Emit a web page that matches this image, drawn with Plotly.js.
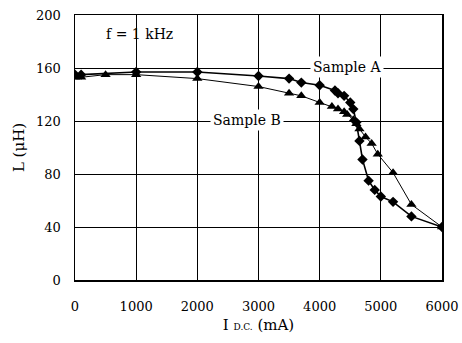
<!DOCTYPE html>
<html>
<head>
<meta charset="utf-8">
<script src="https://cdn.plot.ly/plotly-3.0.1.min.js"></script>
<style>html,body{margin:0;padding:0;background:#fff;}#chart{width:462px;height:343px;}</style>
</head>
<body>
<div id="chart"></div>
<script>
// Sample A (diamonds)
const currentA = [0, 100, 1000, 2000, 3000, 3500, 3700, 4000, 4250, 4300, 4400, 4500, 4550, 4600, 4650, 4700, 4800, 4900, 5000, 5200, 5500, 6000];
const inductA  = [155, 155, 157, 157, 154, 152, 149, 147, 143, 141, 139, 134, 129, 119, 105, 91, 75, 68, 63, 59, 48, 40];
// Sample B (triangles)
const currentB = [0, 100, 500, 1000, 2000, 3000, 3500, 3700, 4000, 4200, 4300, 4400, 4450, 4550, 4600, 4650, 4750, 4850, 4950, 5200, 5500, 6000];
const inductB  = [153, 153, 155, 155, 152, 146, 141, 139, 134, 131, 129, 127, 125, 121, 118, 114, 108, 103, 95, 81, 57, 40];
const xTicks = [0, 1000, 2000, 3000, 4000, 5000, 6000];
const yTicks = [0, 40, 80, 120, 160, 200];

const serif = "DejaVu Serif";
const traces = [
  {x: currentA, y: inductA, mode: 'lines+markers', name: 'Sample A',
   line: {color: '#000', width: 1.6},
   marker: {symbol: 'diamond', size: 8, color: '#000'}},
  {x: currentB, y: inductB, mode: 'lines+markers', name: 'Sample B',
   line: {color: '#000', width: 1},
   marker: {symbol: 'triangle-up', size: 9, color: '#000'}}
];
const layout = {
  width: 462, height: 343,
  margin: {l: 75, r: 20, t: 15, b: 63},
  paper_bgcolor: '#fff', plot_bgcolor: '#fff',
  showlegend: false,
  font: {family: serif, size: 13, color: '#000'},
  xaxis: {range: [0, 6000], tickvals: xTicks, ticktext: xTicks.map(String),
    showgrid: true, gridcolor: '#000', gridwidth: 1,
    showline: true, linecolor: '#000', linewidth: 1.5, mirror: true,
    zeroline: false, ticks: 'outside', ticklen: 0, ticklabelstandoff: 14,
    tickfont: {family: serif, size: 13, color: '#000'},
    title: {text: 'I <span style="font-size:9px">D.C.</span> (mA)', font: {family: serif, size: 15, color: '#000'}, standoff: 6}},
  yaxis: {range: [0, 200], tickvals: yTicks, ticktext: yTicks.map(String),
    showgrid: true, gridcolor: '#000', gridwidth: 1,
    showline: true, linecolor: '#000', linewidth: 1.5, mirror: true,
    zeroline: false, ticks: 'outside', ticklen: 0, ticklabelstandoff: 10,
    tickfont: {family: serif, size: 13, color: '#000'},
    title: {text: 'L (μH)', font: {family: serif, size: 15, color: '#000'}, standoff: 8}},
  annotations: [
    {x: 1050, y: 186, xref: 'x', yref: 'y', text: 'f = 1 kHz', showarrow: false,
     font: {family: serif, size: 14, color: '#000'}},
    {x: 4440, y: 161, xref: 'x', yref: 'y', text: 'Sample A', showarrow: false,
     bgcolor: '#fff', borderpad: 2, font: {family: serif, size: 14, color: '#000'}},
    {x: 2810, y: 120.5, xref: 'x', yref: 'y', text: 'Sample B', showarrow: false,
     bgcolor: '#fff', borderpad: 2, font: {family: serif, size: 14, color: '#000'}}
  ]
};
Plotly.newPlot('chart', traces, layout, {displayModeBar: false, staticPlot: true});
</script>
</body>
</html>
